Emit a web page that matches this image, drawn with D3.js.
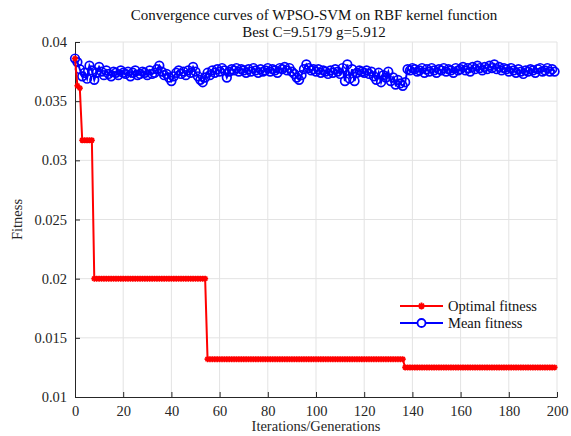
<!DOCTYPE html>
<html>
<head>
<meta charset="utf-8">
<script src="https://cdn.jsdelivr.net/npm/d3@7"></script>
<style>
  body { margin: 0; background: #fff; }
</style>
</head>
<body>
<svg id="chart" width="571" height="436" font-family="Liberation Serif"></svg>
<script>
// iterations 0..199
const iterations = d3.range(0, 200);

// mean fitness (one value per iteration)
const meanFitness = [
  0.0386, 0.0383, 0.0377, 0.0371, 0.0374, 0.0369, 0.0380, 0.0376, 0.0368, 0.0374,
  0.0379, 0.0375, 0.0372, 0.0376, 0.0373, 0.0371, 0.0375, 0.0374, 0.0372, 0.0376,
  0.0374, 0.0373, 0.0375, 0.0371, 0.0374, 0.0376, 0.0372, 0.0373, 0.0375, 0.0374,
  0.0372, 0.0376, 0.0373, 0.0374, 0.0377, 0.0380, 0.0375, 0.0372, 0.0373, 0.0370,
  0.0367, 0.0371, 0.0374, 0.0376, 0.0373, 0.0375, 0.0372, 0.0376, 0.0374, 0.0379,
  0.0375, 0.0371, 0.0368, 0.0366, 0.0370, 0.0374, 0.0372, 0.0376, 0.0374, 0.0377,
  0.0375, 0.0378, 0.0376, 0.0370, 0.0375, 0.0377, 0.0376, 0.0378, 0.0375, 0.0377,
  0.0376, 0.0374, 0.0377, 0.0375, 0.0378, 0.0376, 0.0374, 0.0377, 0.0375, 0.0376,
  0.0378, 0.0375, 0.0377, 0.0376, 0.0374, 0.0378, 0.0377, 0.0379, 0.0376, 0.0378,
  0.0375, 0.0373, 0.0370, 0.0368, 0.0372, 0.0377, 0.0381, 0.0378, 0.0376, 0.0377,
  0.0375, 0.0377, 0.0374, 0.0376, 0.0375, 0.0373, 0.0376, 0.0374, 0.0377, 0.0375,
  0.0373, 0.0378, 0.0367, 0.0381, 0.0369, 0.0377, 0.0367, 0.0374, 0.0376, 0.0375,
  0.0374, 0.0376, 0.0373, 0.0375, 0.0371, 0.0368, 0.0374, 0.0366, 0.0372, 0.0370,
  0.0375, 0.0367, 0.0370, 0.0364, 0.0368, 0.0365, 0.0363, 0.0366, 0.0377, 0.0376,
  0.0378, 0.0377, 0.0375, 0.0376, 0.0378, 0.0374, 0.0377, 0.0375, 0.0378, 0.0376,
  0.0374, 0.0377, 0.0376, 0.0378, 0.0375, 0.0377, 0.0376, 0.0374, 0.0378, 0.0376,
  0.0377, 0.0379, 0.0376, 0.0378, 0.0375, 0.0379, 0.0377, 0.0380, 0.0378, 0.0376,
  0.0379, 0.0377, 0.0380, 0.0378, 0.0381, 0.0377, 0.0379, 0.0376, 0.0378, 0.0377,
  0.0375, 0.0378, 0.0376, 0.0374, 0.0377, 0.0375, 0.0373, 0.0376, 0.0375, 0.0377,
  0.0376, 0.0374, 0.0377, 0.0378, 0.0375, 0.0376, 0.0378, 0.0375, 0.0377, 0.0375
];

// optimal fitness is a step curve: iteration where each level starts, and its value
const optimalStepStart = [0, 1, 2, 3, 8, 55, 137];
const optimalStepValue = [0.0386, 0.0363, 0.0361, 0.0317, 0.0200, 0.0132, 0.0125];

const xTicks = [0, 20, 40, 60, 80, 100, 120, 140, 160, 180, 200];
const yTicks = [0.01, 0.015, 0.02, 0.025, 0.03, 0.035, 0.04];

const titleLines = ["Convergence curves of WPSO-SVM on RBF kernel function", "Best C=9.5179 g=5.912"];
const seriesNames = ["Optimal fitness", "Mean fitness"];

const serif = "Liberation Serif";

// expand steps to one value per iteration
const optimalFitness = iterations.map(i => {
  let k = 0;
  while (k + 1 < optimalStepStart.length && optimalStepStart[k + 1] <= i) k++;
  return optimalStepValue[k];
});

const svg = d3.select("#chart");
const plotLeft = 75, plotRight = 557, plotTop = 42, plotBottom = 397;

const x = d3.scaleLinear().domain([0, 200]).range([plotLeft, plotRight]);
const y = d3.scaleLinear().domain([0.01, 0.04]).range([plotBottom, plotTop]);

svg.append("rect").attr("width", 571).attr("height", 436).attr("fill", "#fff");

// grid
const grid = svg.append("g").attr("stroke", "#e3e3e3").attr("stroke-width", 1);
grid.selectAll("line.v").data(xTicks.slice(1)).join("line")
  .attr("class", "v")
  .attr("x1", d => x(d)).attr("x2", d => x(d))
  .attr("y1", plotTop).attr("y2", plotBottom);
grid.selectAll("line.h").data(yTicks.slice(1)).join("line")
  .attr("class", "h")
  .attr("x1", plotLeft).attr("x2", plotRight)
  .attr("y1", d => y(d)).attr("y2", d => y(d));

// axes
const xAxis = svg.append("g")
  .attr("transform", `translate(0,${plotBottom})`)
  .call(d3.axisBottom(x).tickValues(xTicks).tickFormat(d3.format("d"))
    .tickSizeInner(-5).tickSizeOuter(0).tickPadding(9));
const yAxis = svg.append("g")
  .attr("transform", `translate(${plotLeft},0)`)
  .call(d3.axisLeft(y).tickValues(yTicks).tickFormat(d => String(+d.toFixed(3)))
    .tickSizeInner(-5).tickSizeOuter(0).tickPadding(8));

[xAxis, yAxis].forEach(a => {
  a.attr("font-family", null).attr("font-size", 14.5);
  a.select(".domain").attr("stroke", "#262626").attr("stroke-width", 1);
  a.selectAll(".tick line").attr("stroke", "#262626");
  a.selectAll(".tick text")
    .attr("fill", "#262626")
    .style("font-family", serif)
    .style("font-size", "14.5px");
});

// labels
svg.append("text")
  .attr("x", (plotLeft + plotRight) / 2).attr("y", 431)
  .attr("text-anchor", "middle").attr("font-size", 14.5).attr("fill", "#262626")
  .attr("font-family", serif)
  .text("Iterations/Generations");
svg.append("text")
  .attr("transform", `translate(22,${(plotTop + plotBottom) / 2}) rotate(-90)`)
  .attr("text-anchor", "middle").attr("font-size", 14.5).attr("fill", "#262626")
  .attr("font-family", serif)
  .text("Fitness");

svg.append("g").selectAll("text").data(titleLines).join("text")
  .attr("x", (plotLeft + plotRight) / 2 - 2)
  .attr("y", (d, i) => 20 + i * 16.5)
  .attr("text-anchor", "middle").attr("font-size", 15).attr("fill", "#111")
  .attr("font-family", serif)
  .text(d => d);

// asterisk marker path
function star(s) {
  const d = s * 0.707;
  return `M${-s},0L${s},0M0,${-s}L0,${s}M${-d},${-d}L${d},${d}M${-d},${d}L${d},${-d}`;
}

const line = d3.line().x((d, i) => x(iterations[i])).y(d => y(d));

// mean fitness (blue circles)
svg.append("path").datum(meanFitness)
  .attr("d", line).attr("fill", "none")
  .attr("stroke", "#0000ff").attr("stroke-width", 2);
svg.append("g").selectAll("circle").data(meanFitness).join("circle")
  .attr("cx", (d, i) => x(iterations[i])).attr("cy", d => y(d))
  .attr("r", 4.3).attr("fill", "none")
  .attr("stroke", "#0000ff").attr("stroke-width", 1.7);

// optimal fitness (red asterisks)
svg.append("path").datum(optimalFitness)
  .attr("d", line).attr("fill", "none")
  .attr("stroke", "#ff0000").attr("stroke-width", 2);
svg.append("g").selectAll("path").data(optimalFitness).join("path")
  .attr("transform", (d, i) => `translate(${x(iterations[i])},${y(d)})`)
  .attr("d", star(3)).attr("fill", "none")
  .attr("stroke", "#ff0000").attr("stroke-width", 1.6);

// legend
const legend = svg.append("g");
const legendY = [306, 323];
const legendColor = ["#ff0000", "#0000ff"];
seriesNames.forEach((name, k) => {
  legend.append("line")
    .attr("x1", 400).attr("x2", 443)
    .attr("y1", legendY[k]).attr("y2", legendY[k])
    .attr("stroke", legendColor[k]).attr("stroke-width", 2);
  if (k === 0) {
    legend.append("path")
      .attr("transform", `translate(421.5,${legendY[k]})`)
      .attr("d", star(3.5)).attr("fill", "none")
      .attr("stroke", legendColor[k]).attr("stroke-width", 1.8);
  } else {
    legend.append("circle")
      .attr("cx", 421.5).attr("cy", legendY[k]).attr("r", 4)
      .attr("fill", "#fff").attr("stroke", legendColor[k]).attr("stroke-width", 1.8);
  }
  legend.append("text")
    .attr("x", 448).attr("y", legendY[k] + 5)
    .attr("font-size", 14.5).attr("fill", "#111")
    .attr("font-family", serif)
    .text(name);
});
</script>
</body>
</html>
